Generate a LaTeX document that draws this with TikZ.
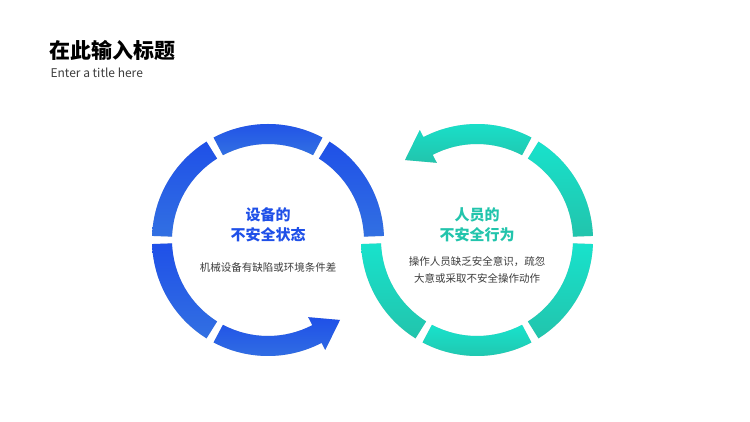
\documentclass[tikz,border=0pt]{standalone}
\usepackage{fontspec}
\setmainfont{Noto Sans CJK SC}
\usetikzlibrary{calc}
\definecolor{blueA}{RGB}{31,80,232}
\definecolor{blueB}{RGB}{50,112,226}
\definecolor{tealA}{RGB}{24,226,204}
\definecolor{tealB}{RGB}{34,196,172}
\definecolor{shade}{RGB}{215,215,215}
\definecolor{textgray}{RGB}{60,60,60}

% ring piece: center, start angle, end angle
\newcommand{\ringpiece}[3]{($(#1)+(#2:116)$) arc[start angle=#2,end angle=#3,radius=116]
  -- ($(#1)+(#3:96)$) arc[start angle=#3,end angle=#2,radius=96] -- cycle}
% ring arrow: center, start angle, end angle, tip angle
\newcommand{\ringarrow}[4]{($(#1)+(#2:116)$) arc[start angle=#2,end angle=#3,radius=116]
  -- ($(#1)+(#3:124)$) -- ($(#1)+(#4:107.6)$) -- ($(#1)+(#3:87)$) -- ($(#1)+(#3:96)$)
  arc[start angle=#3,end angle=#2,radius=96] -- cycle}

\begin{document}
\begin{tikzpicture}[x=1pt,y=1pt,
  bluefill/.style={top color=blueA, bottom color=blueB},
  tealfill/.style={top color=tealA, bottom color=tealB},
  back/.style={fill=shade, shift={(2,-2)}},
  headline/.style={font=\bfseries\fontsize{15}{20}\selectfont, align=center},
  note/.style={font=\fontsize{10.5}{17}\selectfont, text=textgray, align=center}]
  \useasboundingbox (0,0) rectangle (750,422);
  \coordinate (lc) at (268,182);
  \coordinate (rc) at (477,182);

  % shadows
  \foreach \a/\b in {2/58, 62/118, 122/178, 182/238}
    \fill[back] \ringpiece{lc}{\a}{\b};
  \fill[back] \ringarrow{lc}{-118}{-62.5}{-48};
  \foreach \a/\b in {182/238, 242/298, 302/358, 2/58}
    \fill[back] \ringpiece{rc}{\a}{\b};
  \fill[back] \ringarrow{rc}{62}{117.5}{132};

  % left ring
  \foreach \a/\b in {2/58, 62/118, 122/178, 182/238}
    \shade[bluefill] \ringpiece{lc}{\a}{\b};
  \shade[bluefill] \ringarrow{lc}{-118}{-62.5}{-48};

  % right ring
  \foreach \a/\b in {182/238, 242/298, 302/358, 2/58}
    \shade[tealfill] \ringpiece{rc}{\a}{\b};
  \shade[tealfill] \ringarrow{rc}{62}{117.5}{132};

  % texts
  \node[headline, text=blueA] (lhead) at (268,197) {设备的\\不安全状态};
  \node[note] (lnote) at (268,154) {机械设备有缺陷或环境条件差};
  \node[headline, text=tealB] (rhead) at (477,197) {人员的\\不安全行为};
  \node[note] (rnote) at (477,152) {操作人员缺乏安全意识，疏忽\\大意或采取不安全操作动作};

  \node[anchor=west, font=\bfseries\fontsize{21}{24}\selectfont] (title) at (46,372) {在此输入标题};
  \node[anchor=west, font=\fontsize{12}{14}\selectfont, text=textgray] (subtitle) at (47,349) {Enter a title here};
\end{tikzpicture}
\end{document}
